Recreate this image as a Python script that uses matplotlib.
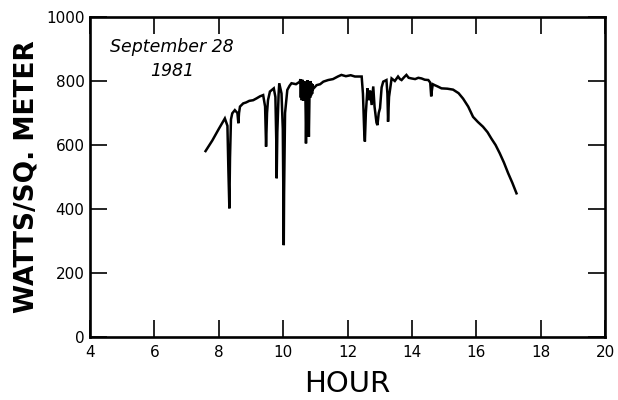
import numpy as np
import matplotlib.pyplot as plt

# hour of day and solar irradiance readings (W/m^2)
hours = [
    7.59, 7.80, 8.00, 8.19, 8.27, 8.30, 8.33, 8.35, 8.38, 8.42, 8.50, 8.58,
    8.61, 8.63, 8.66, 8.76, 8.85, 8.95, 9.07, 9.18, 9.28, 9.38, 9.44, 9.47,
    9.50, 9.53, 9.59, 9.65, 9.71, 9.76, 9.79, 9.80, 9.82, 9.86, 9.88, 9.95,
    9.99, 10.01, 10.02, 10.03, 10.06, 10.13, 10.20, 10.26, 10.40, 10.52,
    10.535, 10.55, 10.565, 10.58, 10.595, 10.61, 10.625, 10.64, 10.655, 10.67,
    10.685, 10.70, 10.71, 10.72, 10.735, 10.75, 10.765, 10.78, 10.79, 10.80,
    10.81, 10.825, 10.84, 10.855, 10.87, 10.885, 10.90, 10.915, 10.93,
    11.04, 11.15, 11.25, 11.40, 11.55, 11.70, 11.81, 11.95, 12.10, 12.23,
    12.44, 12.48, 12.52, 12.54, 12.57, 12.62, 12.66, 12.70, 12.75, 12.80,
    12.84, 12.87, 12.90, 12.93, 12.97, 13.01, 13.06, 13.11, 13.21, 13.24,
    13.26, 13.29, 13.37, 13.47, 13.57, 13.63, 13.68, 13.76, 13.83, 13.90,
    13.99, 14.10, 14.20, 14.30, 14.40, 14.51, 14.57, 14.60, 14.62, 14.65,
    14.71, 14.80, 14.92, 15.10, 15.28, 15.45, 15.59, 15.75, 15.90, 16.05,
    16.21, 16.35, 16.47, 16.60, 16.73, 16.86, 16.99, 17.12, 17.25,
]
watts = [
    581, 614, 650, 683, 660, 520, 402, 560, 680, 699, 709, 700,
    668, 700, 720, 730, 733, 738, 740, 746, 752, 756, 720, 595,
    700, 740, 767, 772, 777, 750, 600, 496, 640, 760, 793, 761,
    650, 420, 287, 450, 700, 772, 785, 793, 790, 798,
    806, 748, 802, 740, 804, 752, 798, 738, 800, 745,
    795, 700, 605, 690, 790, 742, 803, 745, 690, 626,
    700, 795, 748, 800, 755, 792, 760, 790, 775,
    787, 790, 798, 803, 806, 814, 819, 815, 818, 814,
    814, 760, 640, 611, 700, 777, 740, 770, 725, 783,
    720, 694, 670, 662, 700, 715, 780, 798, 803, 760,
    673, 750, 808, 800, 814, 806, 803, 812, 819, 810,
    808, 806, 810, 808, 804, 803, 795, 752, 770, 790,
    787, 783, 777, 776, 773, 762, 745, 720, 688, 672,
    657, 640, 620, 600, 574, 545, 512, 482, 449,
]

x_ticks = [4, 6, 8, 10, 12, 14, 16, 18, 20]
y_ticks = [0, 200, 400, 600, 800, 1000]

fig = plt.figure(figsize=(6.18, 4.0), dpi=100)
ax = fig.add_axes([0.1456, 0.1575, 0.8334, 0.80])

ax.plot(hours, watts, color='black', lw=1.8, solid_joinstyle='miter')

ax.set_xlim(4, 20)
ax.set_ylim(0, 1000)
ax.set_xticks(x_ticks)
ax.set_yticks(y_ticks)
ax.tick_params(direction='in', length=12.5, width=1.2, labelsize=11,
               top=True, right=True, color='black')
ax.tick_params(axis='x', pad=6)
ax.tick_params(axis='y', pad=4)
for s in ax.spines.values():
    s.set_linewidth(1.9)

ax.set_xlabel('HOUR', fontsize=21, va='center')
ax.xaxis.set_label_coords(0.5, -0.147)
ax.set_ylabel('WATTS/SQ. METER', fontsize=19, fontweight='bold', va='center')
ax.yaxis.set_label_coords(-0.124, 0.5)

ax.text(6.55, 905, 'September 28', fontsize=12.5, style='italic',
        ha='center', va='center')
ax.text(6.55, 830, '1981', fontsize=12.5, style='italic',
        ha='center', va='center')

fig.savefig('out.png', dpi=100)
